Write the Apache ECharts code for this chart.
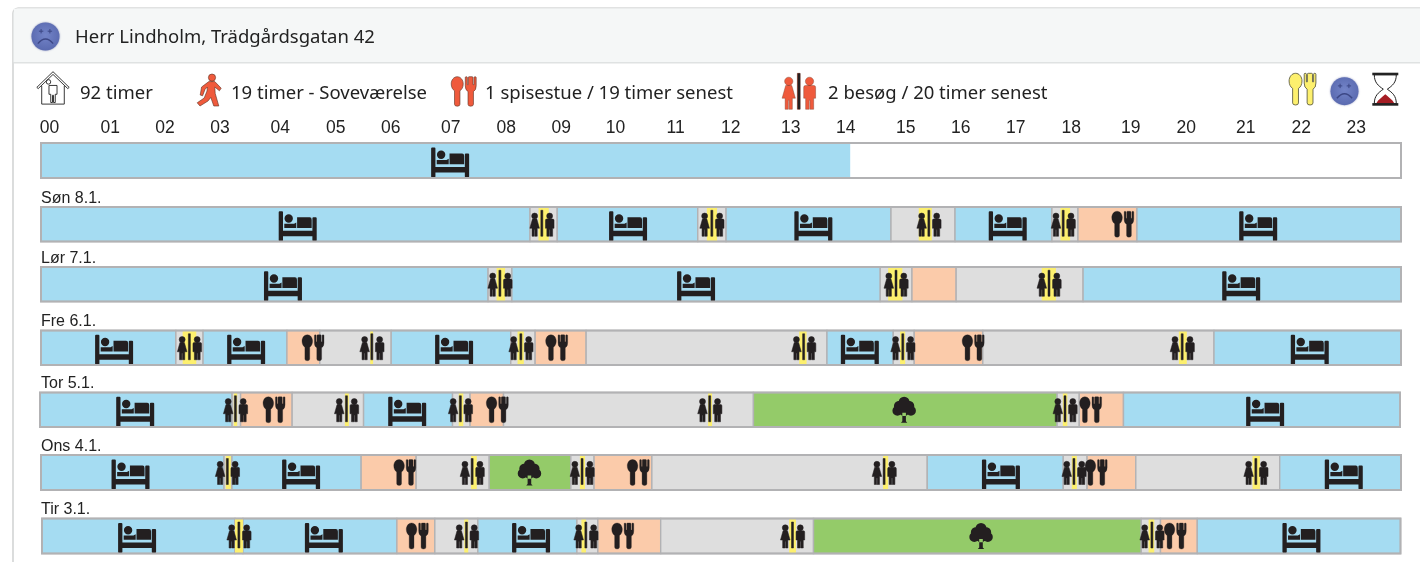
<!DOCTYPE html>
<html><head><meta charset="utf-8">
<style>html,body{margin:0;padding:0;background:#fff;overflow:hidden}#c{width:1420px;height:562px}</style>
<script src="https://cdn.jsdelivr.net/npm/echarts@6/dist/echarts.min.js"></script>
</head><body><div id="c"></div>
<script>
// ---------- data (hours of the day, 0-24) ----------
const hourLabels = ['00','01','02','03','04','05','06','07','08','09','10','11','12','13','14','15','16','17','18','19','20','21','22','23'];
const hourLabelAnchors = [0.15,1.22,2.19,3.16,4.22,5.20,6.17,7.23,8.21,9.18,10.14,11.20,12.17,13.23,14.20,15.26,16.23,17.20,18.18,19.23,20.21,21.26,22.24,23.21];
const headerTitle = 'Herr Lindholm, Trädgårdsgatan 42';
const legendTexts = ['92 timer','19 timer - Soveværelse','1 spisestue / 19 timer senest','2 besøg / 20 timer senest'];
const dayLabels = ['', 'Søn 8.1.','Lør 7.1.','Fre 6.1.','Tor 5.1.','Ons 4.1.','Tir 3.1.'];

const todayStates = [[0,14.28,'sleep']];
const todayVisits = [];
const todayIcons = [[7.22,'bed']];

const sonStates = [[0,8.63,'sleep'],[8.63,9.11,'idle'],[9.11,11.59,'sleep'],[11.59,12.09,'idle'],[12.09,15.0,'sleep'],[15.0,16.13,'idle'],[16.13,17.84,'sleep'],[17.84,18.30,'idle'],[18.30,19.34,'meal'],[19.34,24,'sleep']];
const sonVisits = [[8.78,8.96],[11.75,11.93],[15.49,15.72],[17.99,18.16]];
const sonIcons = [[4.53,'bed'],[8.84,'visit'],[10.36,'bed'],[11.84,'visit'],[13.63,'bed'],[15.67,'visit'],[17.06,'bed'],[18.04,'visit'],[19.09,'diner'],[21.48,'bed']];

const lorStates = [[0,7.89,'sleep'],[7.89,8.31,'idle'],[8.31,14.81,'sleep'],[14.81,15.37,'idle'],[15.37,16.15,'meal'],[16.15,18.39,'idle'],[18.39,24,'sleep']];
const lorVisits = [[8.04,8.19],[14.95,15.20],[17.66,17.91]];
const lorIcons = [[4.27,'bed'],[8.10,'visit'],[11.56,'bed'],[15.09,'visit'],[17.79,'visit'],[21.18,'bed']];

const freStates = [[0,2.38,'sleep'],[2.38,2.86,'idle'],[2.86,4.34,'sleep'],[4.34,4.92,'meal'],[4.92,6.18,'idle'],[6.18,8.29,'sleep'],[8.29,8.72,'idle'],[8.72,9.62,'meal'],[9.62,13.87,'idle'],[13.87,15.04,'sleep'],[15.04,15.41,'idle'],[15.41,16.62,'meal'],[16.62,20.70,'idle'],[20.70,24,'sleep']];
const freVisits = [[2.50,2.74],[5.81,5.86],[8.41,8.52],[13.38,13.51],[15.16,15.25],[20.08,20.22]];
const freIcons = [[1.29,'bed'],[2.62,'visit'],[3.62,'bed'],[4.80,'diner'],[5.84,'visit'],[7.29,'bed'],[8.47,'visit'],[9.10,'diner'],[13.46,'visit'],[14.45,'bed'],[15.21,'visit'],[16.45,'diner'],[20.14,'visit'],[22.39,'bed']];

const torStates = [[0,3.39,'sleep'],[3.39,3.54,'idle'],[3.54,4.45,'meal'],[4.45,5.71,'idle'],[5.71,7.28,'sleep'],[7.28,7.59,'idle'],[7.59,8.18,'meal'],[8.18,12.59,'idle'],[12.59,17.95,'outdoor'],[17.95,18.34,'idle'],[18.34,19.12,'meal'],[19.12,24,'sleep']];
const torVisits = [[3.42,3.48],[5.38,5.45],[7.39,7.47],[11.79,11.86],[18.05,18.13]];
const torIcons = [[1.68,'bed'],[3.45,'visit'],[4.13,'diner'],[5.41,'visit'],[6.48,'bed'],[7.42,'visit'],[8.07,'diner'],[11.82,'visit'],[15.25,'tree'],[18.09,'visit'],[18.54,'diner'],[21.62,'bed']];

const onsStates = [[0,3.23,'sleep'],[3.23,3.37,'idle'],[3.37,5.65,'sleep'],[5.65,6.62,'meal'],[6.62,7.91,'idle'],[7.91,9.35,'outdoor'],[9.35,9.76,'idle'],[9.76,10.78,'meal'],[10.78,15.64,'idle'],[15.64,18.04,'sleep'],[18.04,18.46,'idle'],[18.46,19.32,'meal'],[19.32,21.86,'idle'],[21.86,24,'sleep']];
const onsVisits = [[3.26,3.35],[7.59,7.69],[9.51,9.60],[14.86,14.95],[18.19,18.28],[21.38,21.51]];
const onsIcons = [[1.58,'bed'],[3.29,'visit'],[4.59,'bed'],[6.42,'diner'],[7.61,'visit'],[8.62,'tree'],[9.55,'visit'],[10.54,'diner'],[14.88,'visit'],[16.94,'bed'],[18.23,'visit'],[18.62,'diner'],[21.44,'visit'],[22.99,'bed']];

const tirStates = [[0,3.41,'sleep'],[3.41,3.55,'idle'],[3.55,6.27,'sleep'],[6.27,6.94,'meal'],[6.94,7.70,'idle'],[7.70,9.45,'sleep'],[9.45,9.82,'idle'],[9.82,10.93,'meal'],[10.93,13.63,'idle'],[13.63,19.42,'outdoor'],[19.42,19.76,'idle'],[19.76,20.41,'meal'],[20.41,24,'sleep']];
const tirVisits = [[3.41,3.55],[7.46,7.53],[9.53,9.61],[13.20,13.32],[19.55,19.65]];
const tirIcons = [[1.68,'bed'],[3.48,'visit'],[4.98,'bed'],[6.63,'diner'],[7.50,'visit'],[8.64,'bed'],[9.61,'visit'],[10.26,'diner'],[13.26,'visit'],[16.59,'tree'],[19.61,'visit'],[20.02,'diner'],[22.25,'bed']];

// ---------- styling / layout ----------
const rowsData = [
  {s:todayStates,v:todayVisits,i:todayIcons},{s:sonStates,v:sonVisits,i:sonIcons},{s:lorStates,v:lorVisits,i:lorIcons},
  {s:freStates,v:freVisits,i:freIcons},{s:torStates,v:torVisits,i:torIcons},{s:onsStates,v:onsVisits,i:onsIcons},{s:tirStates,v:tirVisits,i:tirIcons}];
const rowBoxes = [[41,143,1360,35],[41,207,1360,34.5],[41,267,1360,34.5],[41,330.5,1360,34.5],[40,392.5,1360,34.5],[41,455,1360,35],[42,518.5,1358.5,35]];
const stateColors = {sleep:'#a5dcf2',idle:'#dedede',meal:'#fbcbaa',outdoor:'#94cb69'};
const visitColor = '#fdf06e', lineColor = '#b2b2b4', ink = '#231f20';
const textFont = '"Noto Sans"', chartFont = '"Liberation Sans"';

function circle(cx,cy,r){return `M${cx-r} ${cy}a${r} ${r} 0 1 0 ${2*r} 0a${r} ${r} 0 1 0 ${-2*r} 0Z`;}
const bedPath = 'M0 1Q0 0 1 0H3.3Q4.3 0 4.3 1V19.5H33.7V7Q33.7 6 34.7 6H37Q38 6 38 7V29Q38 30 37 30H34.7Q33.7 30 33.7 29V25H4.3V29Q4.3 30 3.3 30H1Q0 30 0 29Z'
  + circle(10,7.2,4.2) + 'M18.4 6H31Q33 6 33 8.4V16.8H18.4ZM5.6 12.6H15.4L17.6 11.2V16.8H5.6Z';
const spoonPath = 'M5.3 0C8.3 0 10.6 2.9 10.6 6.3C10.6 9.2 9.4 11.4 7.7 12.4L7.7 24.3Q7.7 26 5.3 26Q2.9 26 2.9 24.3L2.9 12.4C1.2 11.4 0 9.2 0 6.3C0 2.9 2.3 0 5.3 0Z';
const forkPath = 'M12.4 .8Q12.4 0 13.2 0Q14.2 0 14.2 .8V7H15V.8Q15 0 15.8 0H18.4Q19.2 0 19.2 .8V7H20.1V.8Q20.1 0 21 0Q22 0 22 .8V8Q22 12 19.6 13V24.3Q19.6 26 17.2 26Q14.8 26 14.8 24.3V13Q12.4 12 12.4 8Z';
const dinerPath = spoonPath + forkPath;
const womanPath = circle(4.8,5.8,3)+'M2.6 8.8H7L9.6 18H7.4V26H5.1V19.5H4.5V26H2.2V18H0Z';
const manPath = circle(19.8,5.8,3)+'M16.8 8.8H22.9Q24.2 8.8 24.2 10.1V18H22.8V26H20.2V19.5H19.6V26H17V18H15.6V10.1Q15.6 8.8 16.8 8.8Z';
const visitPath = womanPath + manPath + 'M11 0H13V26H11Z';
const treePath = circle(11.7,5.5,5.5)+circle(11.7,10,6)+circle(7,9.5,5.5)+circle(16.4,9.5,5.5)+circle(5,14,5)+circle(18.5,14,5)+circle(11.7,14,5.2)+'M9.9 15H13.5V24.6L14.9 26H8.5L9.9 24.6Z';
const walkerPath = circle(15.8,3.6,3.6)+'M12.6 7.6H18.6L25 14.2L23.2 16.8L18.6 13L19 19.4L22.6 32H17.6L14.6 23.4L11.8 27L3.8 32L1 28.8L8 24L10.8 17L11.2 13L8.8 15.4L6.4 21.8L4 21L5.4 13Z';
const housePath = 'M0 16L16.5 0L33 16L31.5 17.2L16.5 2.8L1.5 17.2ZM5 14.5V33H28V14.5M14.2 10.4A2.3 2.3 0 1 1 14.2 10.39ZM12.4 14H20.6V23H18.8V31.4H17V24H16V31.4H14.2V23H12.4Z';
const iconSizes = {bed:[38,30,2,bedPath,0],diner:[22,26,0,dinerPath,.3],visit:[24.2,26,-1,visitPath,.5],tree:[23.5,26,0,treePath,0]};

function pathEl(d,x,y,w,h,style,z2){return {type:'path',shape:{pathData:d,x:x,y:y,width:w,height:h},style:style,z2:z2||0};}

function renderStates(row,framed){return function(params,api){
  const a=api.coord([api.value(0),0]),b=api.coord([api.value(1),1]);
  return {type:'rect',shape:{x:a[0],y:b[1],width:b[0]-a[0],height:a[1]-b[1]},
    style:{fill:stateColors[row[params.dataIndex][2]],stroke:framed?lineColor:null,lineWidth:framed?1.4:0}};
};}
function renderVisits(params,api){
  const a=api.coord([api.value(0),0]),b=api.coord([api.value(1),1]);
  return {type:'rect',shape:{x:a[0],y:b[1],width:b[0]-a[0],height:a[1]-b[1]},style:{fill:visitColor}};
}
function renderIcons(row){return function(params,api){
  const c=api.coord([api.value(0),.5]),k=iconSizes[row[params.dataIndex][1]];
  return pathEl(k[3],c[0]-k[0]/2,c[1]-k[1]/2+k[2],k[0],k[1],{fill:ink,stroke:k[4]?ink:null,lineWidth:k[4]});
};}

const grids=[],xAxes=[],yAxes=[],series=[],titles=[];
rowsData.forEach((r,i)=>{
  const b=rowBoxes[i];
  grids.push({left:b[0],top:b[1],width:b[2],height:b[3],show:true,z:5,backgroundColor:'transparent',borderColor:lineColor,borderWidth:2});
  xAxes.push(i===0?{gridIndex:0,type:'value',min:0,max:24,position:'top',axisLine:{show:false},axisTick:{show:false},splitLine:{show:false},
      axisLabel:{customValues:hourLabelAnchors,margin:6,color:'#222',fontFamily:chartFont,fontSize:17.5,align:'center',formatter:v=>hourLabels[Math.floor(v)]}}
    :{gridIndex:i,type:'value',min:0,max:24,show:false});
  yAxes.push({gridIndex:i,type:'value',min:0,max:1,show:false});
  series.push({type:'custom',xAxisIndex:i,yAxisIndex:i,clip:false,silent:true,z:2,renderItem:renderStates(r.s,i>0),encode:{x:[0,1]},data:r.s.map(d=>[d[0],d[1]])});
  series.push({type:'custom',xAxisIndex:i,yAxisIndex:i,clip:false,silent:true,z:3,renderItem:renderVisits,encode:{x:[0,1]},data:r.v});
  series.push({type:'custom',xAxisIndex:i,yAxisIndex:i,clip:false,silent:true,z:4,renderItem:renderIcons(r.i),encode:{x:0},data:r.i.map(d=>[d[0]])});
  if(dayLabels[i]) titles.push({text:dayLabels[i],left:41,top:b[1]-16.5,padding:0,textStyle:{fontFamily:chartFont,fontSize:16,fontWeight:'normal',color:'#222'}});
});

// header and legend decoration, pixel placed
const redStyle={fill:'#ef5a3c',stroke:'#5b3024',lineWidth:.6};
const yellowStyle={fill:'#fdf06e',stroke:'#4d4d3a',lineWidth:.8};
function smiley(cx,cy,r){
  const grad=new echarts.graphic.RadialGradient(.5,.45,.55,[{offset:0,color:'#7384c8'},{offset:1,color:'#5a6ab0'}]);
  return [{type:'circle',shape:{cx:cx,cy:cy,r:r-.5},style:{fill:grad,shadowColor:'rgba(90,100,160,.7)',shadowBlur:2}},
    {type:'path',shape:{pathData:'M0 5Q5 -1 10 5',x:cx-8,y:cy+2.5,width:16,height:4.6},style:{fill:'none',stroke:'#3c4785',lineWidth:1.4}},
    {type:'path',shape:{pathData:'M0 2H4M2 0V4M8 2H12M10 0V4',x:cx-7,y:cy-7.5,width:14,height:4.4},style:{fill:'none',stroke:'#3c4785',lineWidth:1}}];
}
function hourglass(x,y){return [
  {type:'path',shape:{pathData:'M2 2H24C24 10 20 13 15 16.5C20 20 24 23 24 31H2C2 23 6 20 11 16.5C6 13 2 10 2 2Z',x:x+2,y:y+2,width:22,height:29},style:{fill:'#fff',stroke:'#222',lineWidth:1}},
  {type:'path',shape:{pathData:'M0 9C2 5 6 3 9 0C12 3 16 5 18 9Z',x:x+4,y:y+21.5,width:18,height:9},style:{fill:'#a51d24'}},
  {type:'rect',shape:{x:x,y:y,width:26,height:2.6},style:{fill:'#222'}},
  {type:'rect',shape:{x:x,y:y+30.4,width:26,height:2.6},style:{fill:'#222'}}];}
series.push({type:'custom',coordinateSystem:'none',silent:true,z:6,data:[[0]],renderItem:function(){
  return {type:'group',children:[].concat(
    smiley(45.5,36.5,14.5),
    [pathEl(housePath,36.7,71.7,32.6,32.4,{fill:'#fff',stroke:'#222',lineWidth:.9}),
     pathEl(walkerPath,196.7,74,25,32,redStyle),
     pathEl(dinerPath,450.7,76.7,26,29.5,redStyle),
     pathEl(visitPath,781,73.3,35.7,36,{fill:'#ef5a3c',stroke:'#7a3a28',lineWidth:.4}),
     pathEl('M11 0H13V26H11Z',797.4,73.3,3,36,{fill:ink}),
     pathEl(dinerPath,1289,73.3,27,31.7,yellowStyle)],
    smiley(1344.5,91.2,14.5),
    hourglass(1372.3,72.7))};
}});

const graphic=[
  {type:'rect',z:-2,shape:{x:13,y:8,width:1460,height:620,r:5},style:{fill:'#fff',stroke:'#c4c6c6',lineWidth:1.2}},
  {type:'rect',z:-1,shape:{x:13.6,y:8.6,width:1450,height:53.4},style:{fill:'#f5f7f7'}},
  {type:'rect',z:-1,shape:{x:13.6,y:62,width:1450,height:1.6},style:{fill:'#dfe2e2'}},
  {type:'text',left:75,top:28,style:{text:headerTitle,fontFamily:textFont,fontSize:18.5,fill:'#222'}},
  {type:'text',left:80,top:84,style:{text:legendTexts[0],fontFamily:textFont,fontSize:18.5,fill:'#222'}},
  {type:'text',left:231,top:84,style:{text:legendTexts[1],fontFamily:textFont,fontSize:18.5,fill:'#222'}},
  {type:'text',left:485,top:84,style:{text:legendTexts[2],fontFamily:textFont,fontSize:18.5,fill:'#222'}},
  {type:'text',left:828,top:84,style:{text:legendTexts[3],fontFamily:textFont,fontSize:18.5,fill:'#222'}}
];

const chart=echarts.init(document.getElementById('c'),null,{renderer:'canvas'});
chart.setOption({animation:false,backgroundColor:'#fff',title:titles,graphic:graphic,grid:grids,xAxis:xAxes,yAxis:yAxes,series:series,tooltip:{show:false}});
</script></body></html>
